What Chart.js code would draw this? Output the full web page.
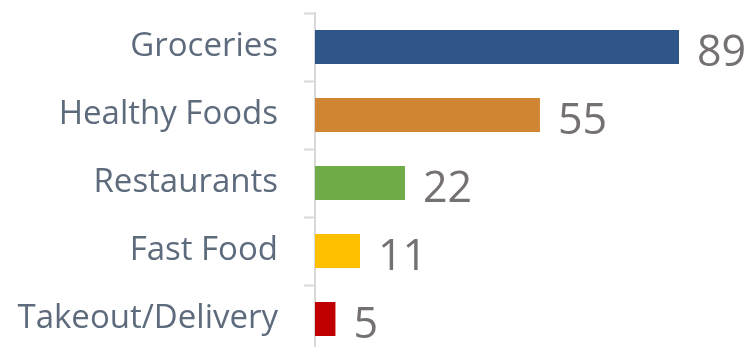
<!DOCTYPE html>
<html lang="en">
<head>
  <meta charset="UTF-8" />
  <title>Food Spending</title>
  <script src="https://cdn.jsdelivr.net/npm/chart.js"></script>
  <style>
    html, body {
      margin: 0;
      padding: 0;
      background: #ffffff;
      overflow: hidden;
    }
    #chart-container {
      width: 754px;
      height: 360px;
    }
  </style>
</head>
<body>
  <div id="chart-container">
    <canvas id="chart"></canvas>
  </div>

  <script>
    const categories = ['Groceries', 'Healthy Foods', 'Restaurants', 'Fast Food', 'Takeout/Delivery'];
    const values = [89, 55, 22, 11, 5];
    const barColors = ['#2e5788', '#d08533', '#6fab47', '#ffc000', '#c00000'];

    // value printed to the right of each bar, sitting a bit low
    const valueLabels = {
      id: 'valueLabels',
      afterDatasetsDraw(chart) {
        const ctx = chart.ctx;
        const meta = chart.getDatasetMeta(0);
        ctx.save();
        ctx.font = '43px "Open Sans"';
        ctx.fillStyle = '#757171';
        ctx.textAlign = 'left';
        ctx.textBaseline = 'alphabetic';
        meta.data.forEach((bar, i) => {
          ctx.fillText(String(values[i]), bar.x + 18, bar.y + 19);
        });
        ctx.restore();
      }
    };

    const ctx = document.getElementById('chart').getContext('2d');
    new Chart(ctx, {
      type: 'bar',
      data: {
        labels: categories,
        datasets: [{
          data: values,
          backgroundColor: barColors,
          barPercentage: 0.5,
          categoryPercentage: 1.0
        }]
      },
      options: {
        indexAxis: 'y',
        animation: false,
        responsive: true,
        maintainAspectRatio: false,
        layout: {
          padding: { top: 13, right: 30, bottom: 7, left: 0 }
        },
        scales: {
          x: {
            display: false,
            min: 0,
            max: 100
          },
          y: {
            afterFit(scale) {
              scale.width = 315;
              scale.paddingTop = 0;
              scale.paddingBottom = 0;
            },
            grid: {
              offset: true,
              drawOnChartArea: false,
              drawTicks: true,
              tickLength: 11,
              tickWidth: 2,
              color: '#d9d9d9'
            },
            border: {
              display: true,
              color: '#d9d9d9',
              width: 2
            },
            ticks: {
              padding: 26,
              color: '#5d6b7c',
              font: { family: 'Open Sans', size: 33 }
            }
          }
        },
        plugins: {
          legend: { display: false },
          tooltip: { enabled: false }
        }
      },
      plugins: [valueLabels]
    });
  </script>
</body>
</html>
